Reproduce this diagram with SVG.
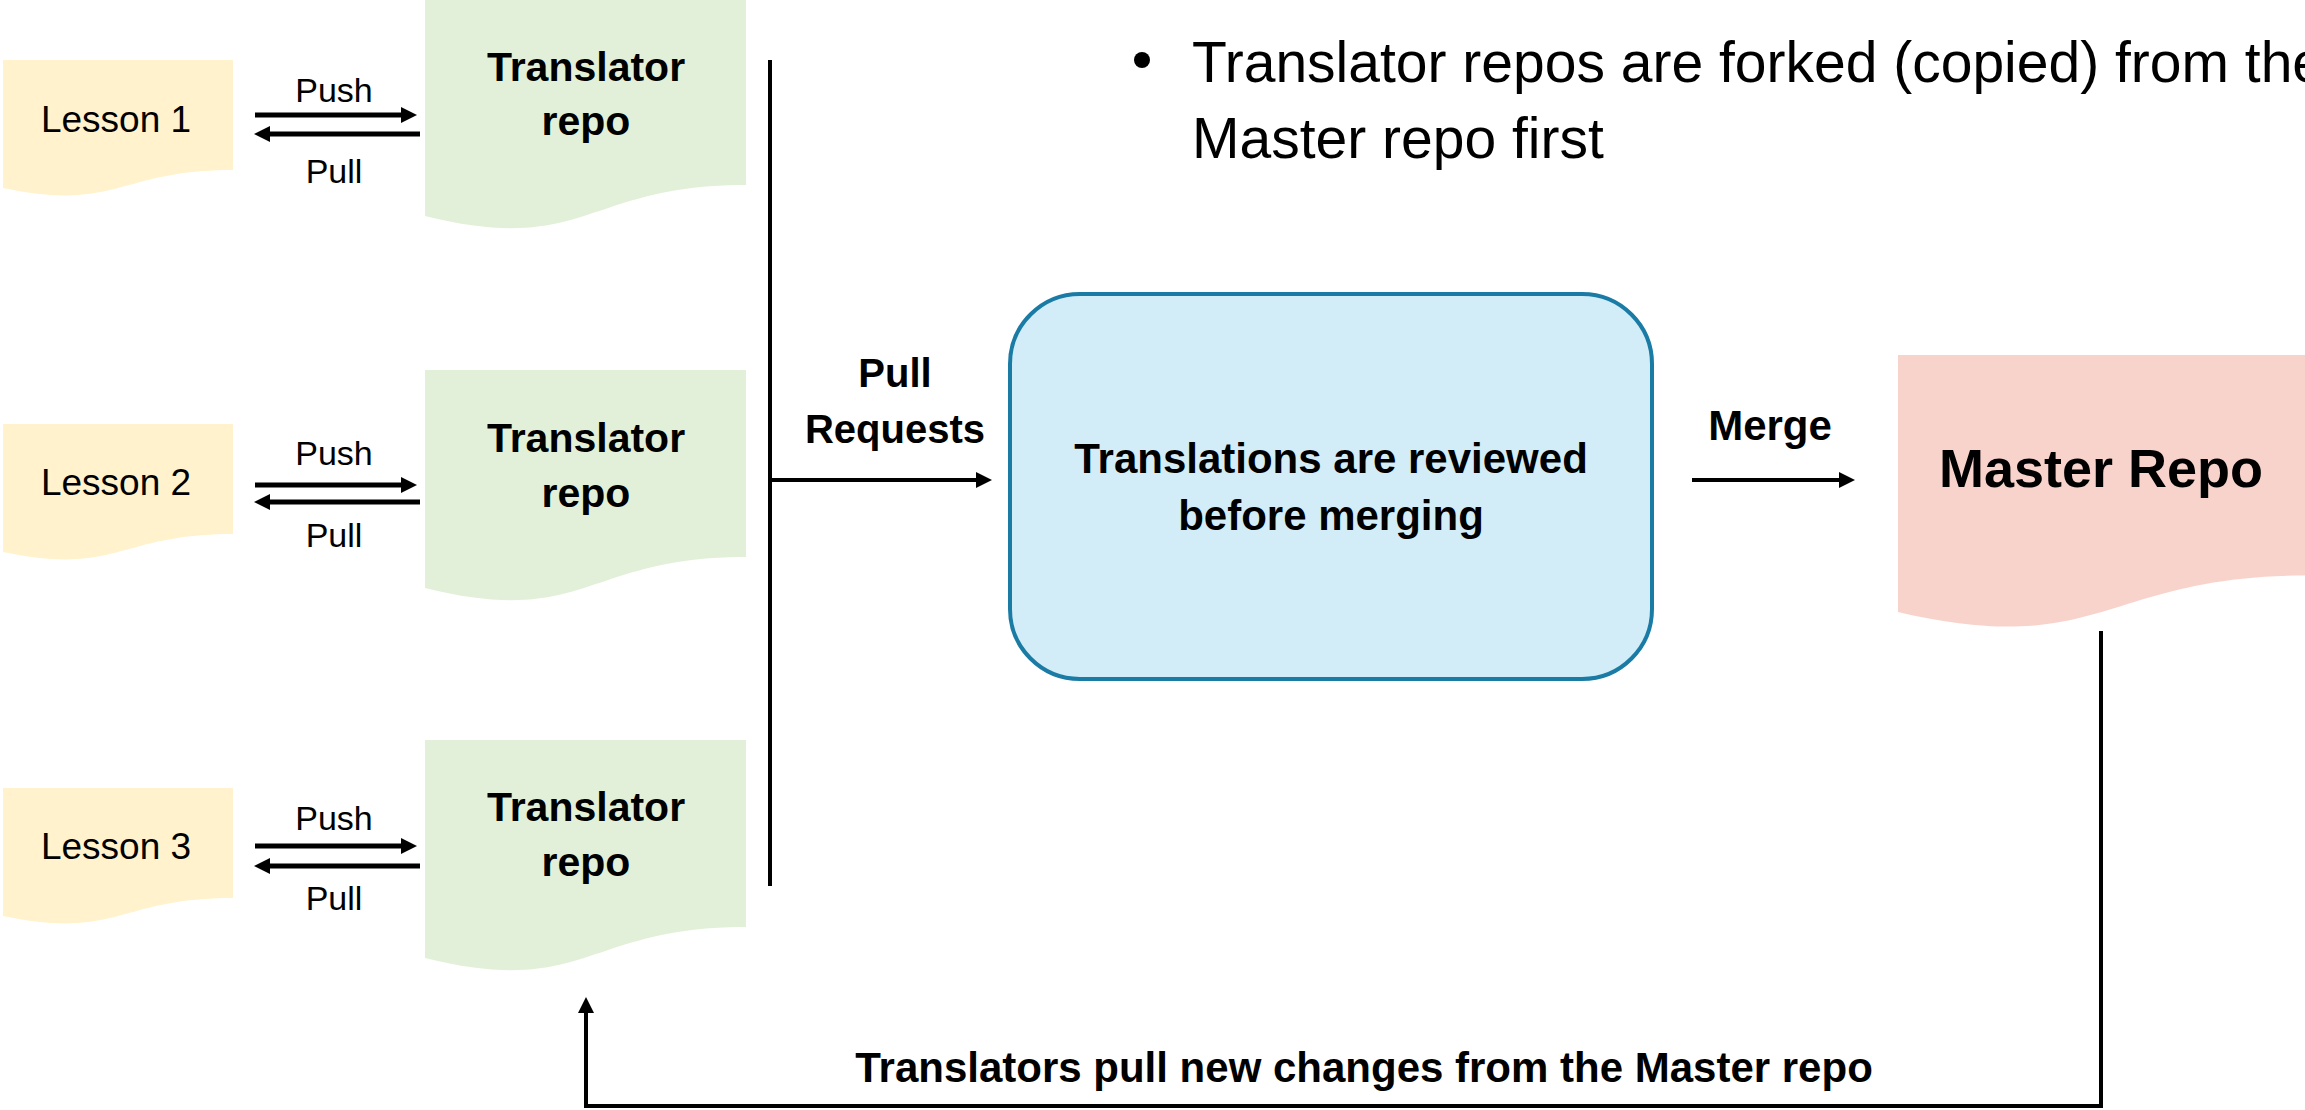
<svg xmlns="http://www.w3.org/2000/svg" width="2305" height="1110" viewBox="0 0 2305 1110">
<style>
.t{font-family:"Liberation Sans",Arial,sans-serif;fill:#000}
.b{font-weight:bold}
.c{text-anchor:middle}
.lesson{fill:#FFF2CC}
.trans{fill:#E2F0D9}
.master{fill:#F8D3CC}
.review{fill:#D3EDF8;stroke:#1A7BA5;stroke-width:4}
.ln{stroke:#000;stroke-width:4;fill:none}
.pp{stroke:#000;stroke-width:5;fill:none}
</style>
<defs>
<marker id="ah" markerUnits="userSpaceOnUse" markerWidth="18" markerHeight="18" refX="1" refY="8" orient="auto">
<path d="M0,0 L16,8 L0,16 Z" fill="#000"/>
</marker>
</defs>
<rect width="2305" height="1110" fill="#fff"/>

<g id="lesson1">
<path class="lesson" d="M3,60 H233 V170 C118,170 118,212 3,188 Z"/>
<text class="t c" x="116" y="132" font-size="37">Lesson 1</text>
</g>
<g id="lesson2">
<path class="lesson" d="M3,424 H233 V534 C118,534 118,576 3,552 Z"/>
<text class="t c" x="116" y="495" font-size="37">Lesson 2</text>
</g>
<g id="lesson3">
<path class="lesson" d="M3,788 H233 V898 C118,898 118,940 3,916 Z"/>
<text class="t c" x="116" y="859" font-size="37">Lesson 3</text>
</g>

<g id="translator1">
<path class="trans" d="M425,-2 H746 V185 C585.5,185 585.5,256 425,216 Z"/>
<text class="t b c" x="586" y="81" font-size="41">Translator</text>
<text class="t b c" x="586" y="135" font-size="41">repo</text>
</g>
<g id="translator2">
<path class="trans" d="M425,370 H746 V557 C585.5,557 585.5,628 425,588 Z"/>
<text class="t b c" x="586" y="452" font-size="41">Translator</text>
<text class="t b c" x="586" y="507" font-size="41">repo</text>
</g>
<g id="translator3">
<path class="trans" d="M425,740 H746 V927 C585.5,927 585.5,998 425,958 Z"/>
<text class="t b c" x="586" y="821" font-size="41">Translator</text>
<text class="t b c" x="586" y="876" font-size="41">repo</text>
</g>

<g id="review">
<rect class="review" x="1010" y="294" width="642" height="385" rx="70" ry="70"/>
<text class="t b c" x="1331" y="473" font-size="42">Translations are reviewed</text>
<text class="t b c" x="1331" y="530" font-size="42">before merging</text>
</g>

<g id="master">
<path class="master" d="M1898,355 H2308 V575.5 C2103,575.5 2103,659.6 1898,612 Z"/>
<text class="t b c" x="2101" y="487" font-size="54">Master Repo</text>
</g>

<g id="note">
<circle cx="1142" cy="60" r="8" fill="#000"/>
<text class="t" x="1192" y="82" font-size="57">Translator repos are forked (copied) from the</text>
<text class="t" x="1192" y="158" font-size="57">Master repo first</text>
</g>

<g id="connectors">
<line class="pp" x1="255" y1="115" x2="402" y2="115" marker-end="url(#ah)"/>
<line class="pp" x1="420" y1="134" x2="269" y2="134" marker-end="url(#ah)"/>
<line class="pp" x1="255" y1="485" x2="402" y2="485" marker-end="url(#ah)"/>
<line class="pp" x1="420" y1="502" x2="269" y2="502" marker-end="url(#ah)"/>
<line class="pp" x1="255" y1="846" x2="402" y2="846" marker-end="url(#ah)"/>
<line class="pp" x1="420" y1="866" x2="269" y2="866" marker-end="url(#ah)"/>
<text class="t c" x="334" y="102" font-size="34">Push</text>
<text class="t c" x="334" y="183" font-size="34">Pull</text>
<text class="t c" x="334" y="465" font-size="34">Push</text>
<text class="t c" x="334" y="547" font-size="34">Pull</text>
<text class="t c" x="334" y="830" font-size="34">Push</text>
<text class="t c" x="334" y="910" font-size="34">Pull</text>

<line class="ln" x1="770" y1="60" x2="770" y2="886"/>
<line class="ln" x1="770" y1="480" x2="977" y2="480" marker-end="url(#ah)"/>
<text class="t b c" x="895" y="387" font-size="40">Pull</text>
<text class="t b c" x="895" y="443" font-size="40">Requests</text>

<line class="ln" x1="1692" y1="480" x2="1840" y2="480" marker-end="url(#ah)"/>
<text class="t b c" x="1770" y="440" font-size="42">Merge</text>

<path class="ln" d="M2101,631 V1106 H586 V1012" marker-end="url(#ah)"/>
<text class="t b c" x="1364" y="1082" font-size="42">Translators pull new changes from the Master repo</text>
</g>
</svg>
